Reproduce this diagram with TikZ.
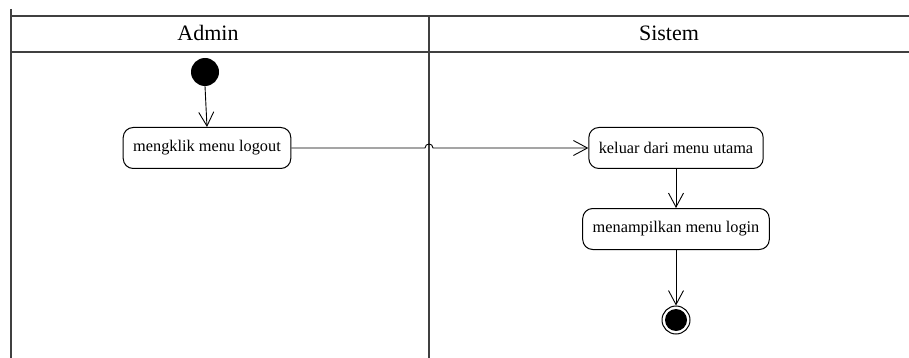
\documentclass[tikz,border=0pt]{standalone}
\usepackage{fontspec}
\setmainfont{Liberation Serif}
\usetikzlibrary{arrows.meta}
\begin{document}
\begin{tikzpicture}[x=1pt,y=-1pt,
  lane/.style={draw=black!75,line width=1.2pt},
  act/.style={draw,rounded corners=10pt,line width=1pt,inner xsep=10pt,minimum height=41pt,font=\fontsize{16.3}{19}\selectfont},
  hdr/.style={font=\fontsize{22}{26}\selectfont},
  flow/.style={draw,line width=0.9pt,-{Straight Barb[length=14pt,width=15pt,line width=0.9pt]}}]
\useasboundingbox (0,0) rectangle (909,358);
% swimlanes
\coordinate (tl) at (11,16);
\coordinate (tr) at (909,16);
\coordinate (hl) at (11,52);
\coordinate (hr) at (909,52);
\coordinate (lt) at (11,9);
\coordinate (lb) at (11,358);
\coordinate (mt) at (429,17);
\coordinate (mb) at (429,358);
\draw[lane] (tl) -- (tr);
\draw[lane] (hl) -- (hr);
\draw[lane] (lt) -- (lb);
\draw[lane] (mt) -- (mb);
\node[hdr] (admin) at (208,33) {Admin};
\node[hdr] (sistem) at (669,33) {Sistem};
% nodes
\node[circle,fill=black,minimum size=28pt,inner sep=0pt] (start) at (205,72) {};
\node[act] (b1) at (207,148) {mengklik menu logout};
\node[act] (b2) at (676,148) {keluar dari menu utama};
\node[act] (b3) at (676,229) {menampilkan menu login};
\node[circle,draw,fill=white,line width=1pt,minimum size=28pt,inner sep=0pt] (end) at (676,320) {};
\node[circle,fill=black,minimum size=22pt,inner sep=0pt] (endin) at (end.center) {};
% connectors
\coordinate (j1) at (425,148);
\coordinate (j2) at (433,148);
\draw[flow] (start.south) -- (b1.north);
\draw[flow] (b1.east) -- (j1) .. controls (425,142.7) and (433,142.7) .. (j2) -- (b2.west);
\draw[flow] (b2.south) -- (b3.north);
\draw[flow] (b3.south) -- (end.north);
\end{tikzpicture}
\end{document}
